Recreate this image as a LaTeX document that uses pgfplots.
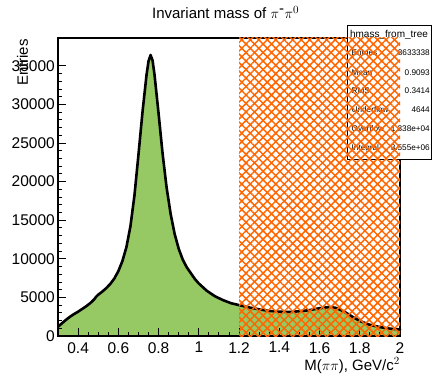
\documentclass[border=0pt]{standalone}
\usepackage{pgfplots}
\pgfplotsset{compat=1.18}
\usepackage{pgfplotstable}
\usepackage{fontspec}
\setmainfont{Liberation Sans}
\usetikzlibrary{patterns.meta}
\definecolor{hgreen}{RGB}{150,201,99}
\definecolor{horange}{RGB}{255,102,0}

\pgfplotstableread{
x y
0.30 1200
0.32 1650
0.34 2100
0.36 2500
0.38 2850
0.40 3150
0.42 3500
0.44 3850
0.46 4250
0.48 4750
0.49 5100
0.50 5350
0.52 5750
0.54 6200
0.56 6750
0.58 7450
0.60 8400
0.62 9700
0.64 11500
0.66 14200
0.68 18200
0.70 23500
0.72 29000
0.74 33800
0.75 35600
0.76 36400
0.77 35700
0.78 33800
0.80 28800
0.82 23600
0.84 19200
0.86 15800
0.88 13200
0.90 11300
0.92 9900
0.94 8900
0.96 8150
0.98 7400
1.00 6800
1.04 5850
1.08 5150
1.12 4650
1.16 4250
1.20 4000
1.25 3700
1.30 3450
1.35 3250
1.40 3150
1.45 3120
1.50 3200
1.55 3350
1.60 3600
1.65 3750
1.68 3650
1.72 3200
1.76 2550
1.80 1950
1.85 1450
1.90 1150
1.95 950
2.00 850
}\histdata

\begin{document}
\begin{tikzpicture}
\begin{axis}[
  name=main,
  scale only axis, width=342pt, height=298pt,
  xmin=0.3, xmax=2, ymin=0, ymax=38600,
  axis on top, clip=false,
  scaled y ticks=false, scaled x ticks=false,
  tick align=inside, tick pos=left,
  xtick={0.4,0.6,0.8,1,1.2,1.4,1.6,1.8,2},
  xticklabels={0.4,0.6,0.8,1,1.2,1.4,1.6,1.8,2},
  minor x tick num=3,
  ytick={0,5000,10000,15000,20000,25000,30000,35000},
  yticklabels={0,5000,10000,15000,20000,25000,30000,35000},
  minor y tick num=4,
  major tick length=8pt, minor tick length=4pt,
  tick style={black, line width=0.9pt},
  axis line style={line width=1.6pt},
  ticklabel style={font=\fontsize{15.5}{18}\selectfont, inner sep=0pt},
  xticklabel style={yshift=-6pt},
  yticklabel style={xshift=-3pt},
]
\addplot[fill=hgreen, draw=none] table[x=x, y=y] {\histdata} \closedcycle;
\addplot[black, line width=2.6pt, line join=round, line cap=round] table[x=x, y=y] {\histdata};
\node[anchor=base, inner sep=0pt, font=\fontsize{15}{18}\selectfont] at ([yshift=19.5pt]rel axis cs:0.49,1) {Invariant mass of $\pi^{\textrm{-}}\pi^{0}$};
\node[anchor=base east, rotate=90, inner sep=0pt, font=\fontsize{15}{18}\selectfont] at ([xshift=-30pt,yshift=-1pt]rel axis cs:0,1) {Entries};
\node[anchor=base east, inner sep=0pt, font=\fontsize{15}{18}\selectfont] at ([yshift=-34pt]rel axis cs:1,0) {M($\pi\pi$), GeV/c$^{2}$};
\end{axis}
% stats box
\draw[fill=white, line width=0.8pt] ([xshift=-53pt,yshift=13pt]main.north east) rectangle ([xshift=31.5pt,yshift=-121pt]main.north east);
\node[anchor=mid, inner sep=0pt, font=\fontsize{10}{12}\selectfont] at ([xshift=-11pt,yshift=3pt]main.north east) {hmass\_from\_tree};
\begin{scope}[every node/.style={inner sep=0pt, font=\fontsize{8.2}{10}\selectfont}]
\node[anchor=mid west] at ([xshift=-48.5pt,yshift=-15pt]main.north east) {Entries};
\node[anchor=mid east] at ([xshift=30pt,yshift=-15pt]main.north east) {3633338};
\node[anchor=mid west] at ([xshift=-48.5pt,yshift=-34.5pt]main.north east) {Mean};
\node[anchor=mid east] at ([xshift=30pt,yshift=-34.5pt]main.north east) {0.9093};
\node[anchor=mid west] at ([xshift=-48.5pt,yshift=-53pt]main.north east) {RMS};
\node[anchor=mid east] at ([xshift=30pt,yshift=-53pt]main.north east) {0.3414};
\node[anchor=mid west] at ([xshift=-48.5pt,yshift=-72pt]main.north east) {Underflow};
\node[anchor=mid east] at ([xshift=30pt,yshift=-72pt]main.north east) {4644};
\node[anchor=mid west] at ([xshift=-48.5pt,yshift=-91pt]main.north east) {Overflow};
\node[anchor=mid east] at ([xshift=30pt,yshift=-91pt]main.north east) {1.338e+04};
\node[anchor=mid west] at ([xshift=-48.5pt,yshift=-110pt]main.north east) {Integral};
\node[anchor=mid east] at ([xshift=30pt,yshift=-110pt]main.north east) {3.555e+06};
\end{scope}
% hatched region on top
\begin{axis}[
  scale only axis, width=342pt, height=298pt,
  xmin=0.3, xmax=2, ymin=0, ymax=38600,
  hide axis, clip=false,
]
\addplot[draw=none, pattern={Lines[angle=45,distance=6pt,line width=1.5pt]}, pattern color=horange] coordinates {(1.2,38600) (2,38600)} \closedcycle;
\addplot[draw=none, pattern={Lines[angle=-45,distance=6pt,line width=1.5pt]}, pattern color=horange] coordinates {(1.2,38600) (2,38600)} \closedcycle;
\end{axis}
% bounding box
\path ([xshift=-58pt,yshift=-39pt]main.south west) rectangle ([xshift=33pt,yshift=38pt]main.north east);
\end{tikzpicture}
\end{document}
